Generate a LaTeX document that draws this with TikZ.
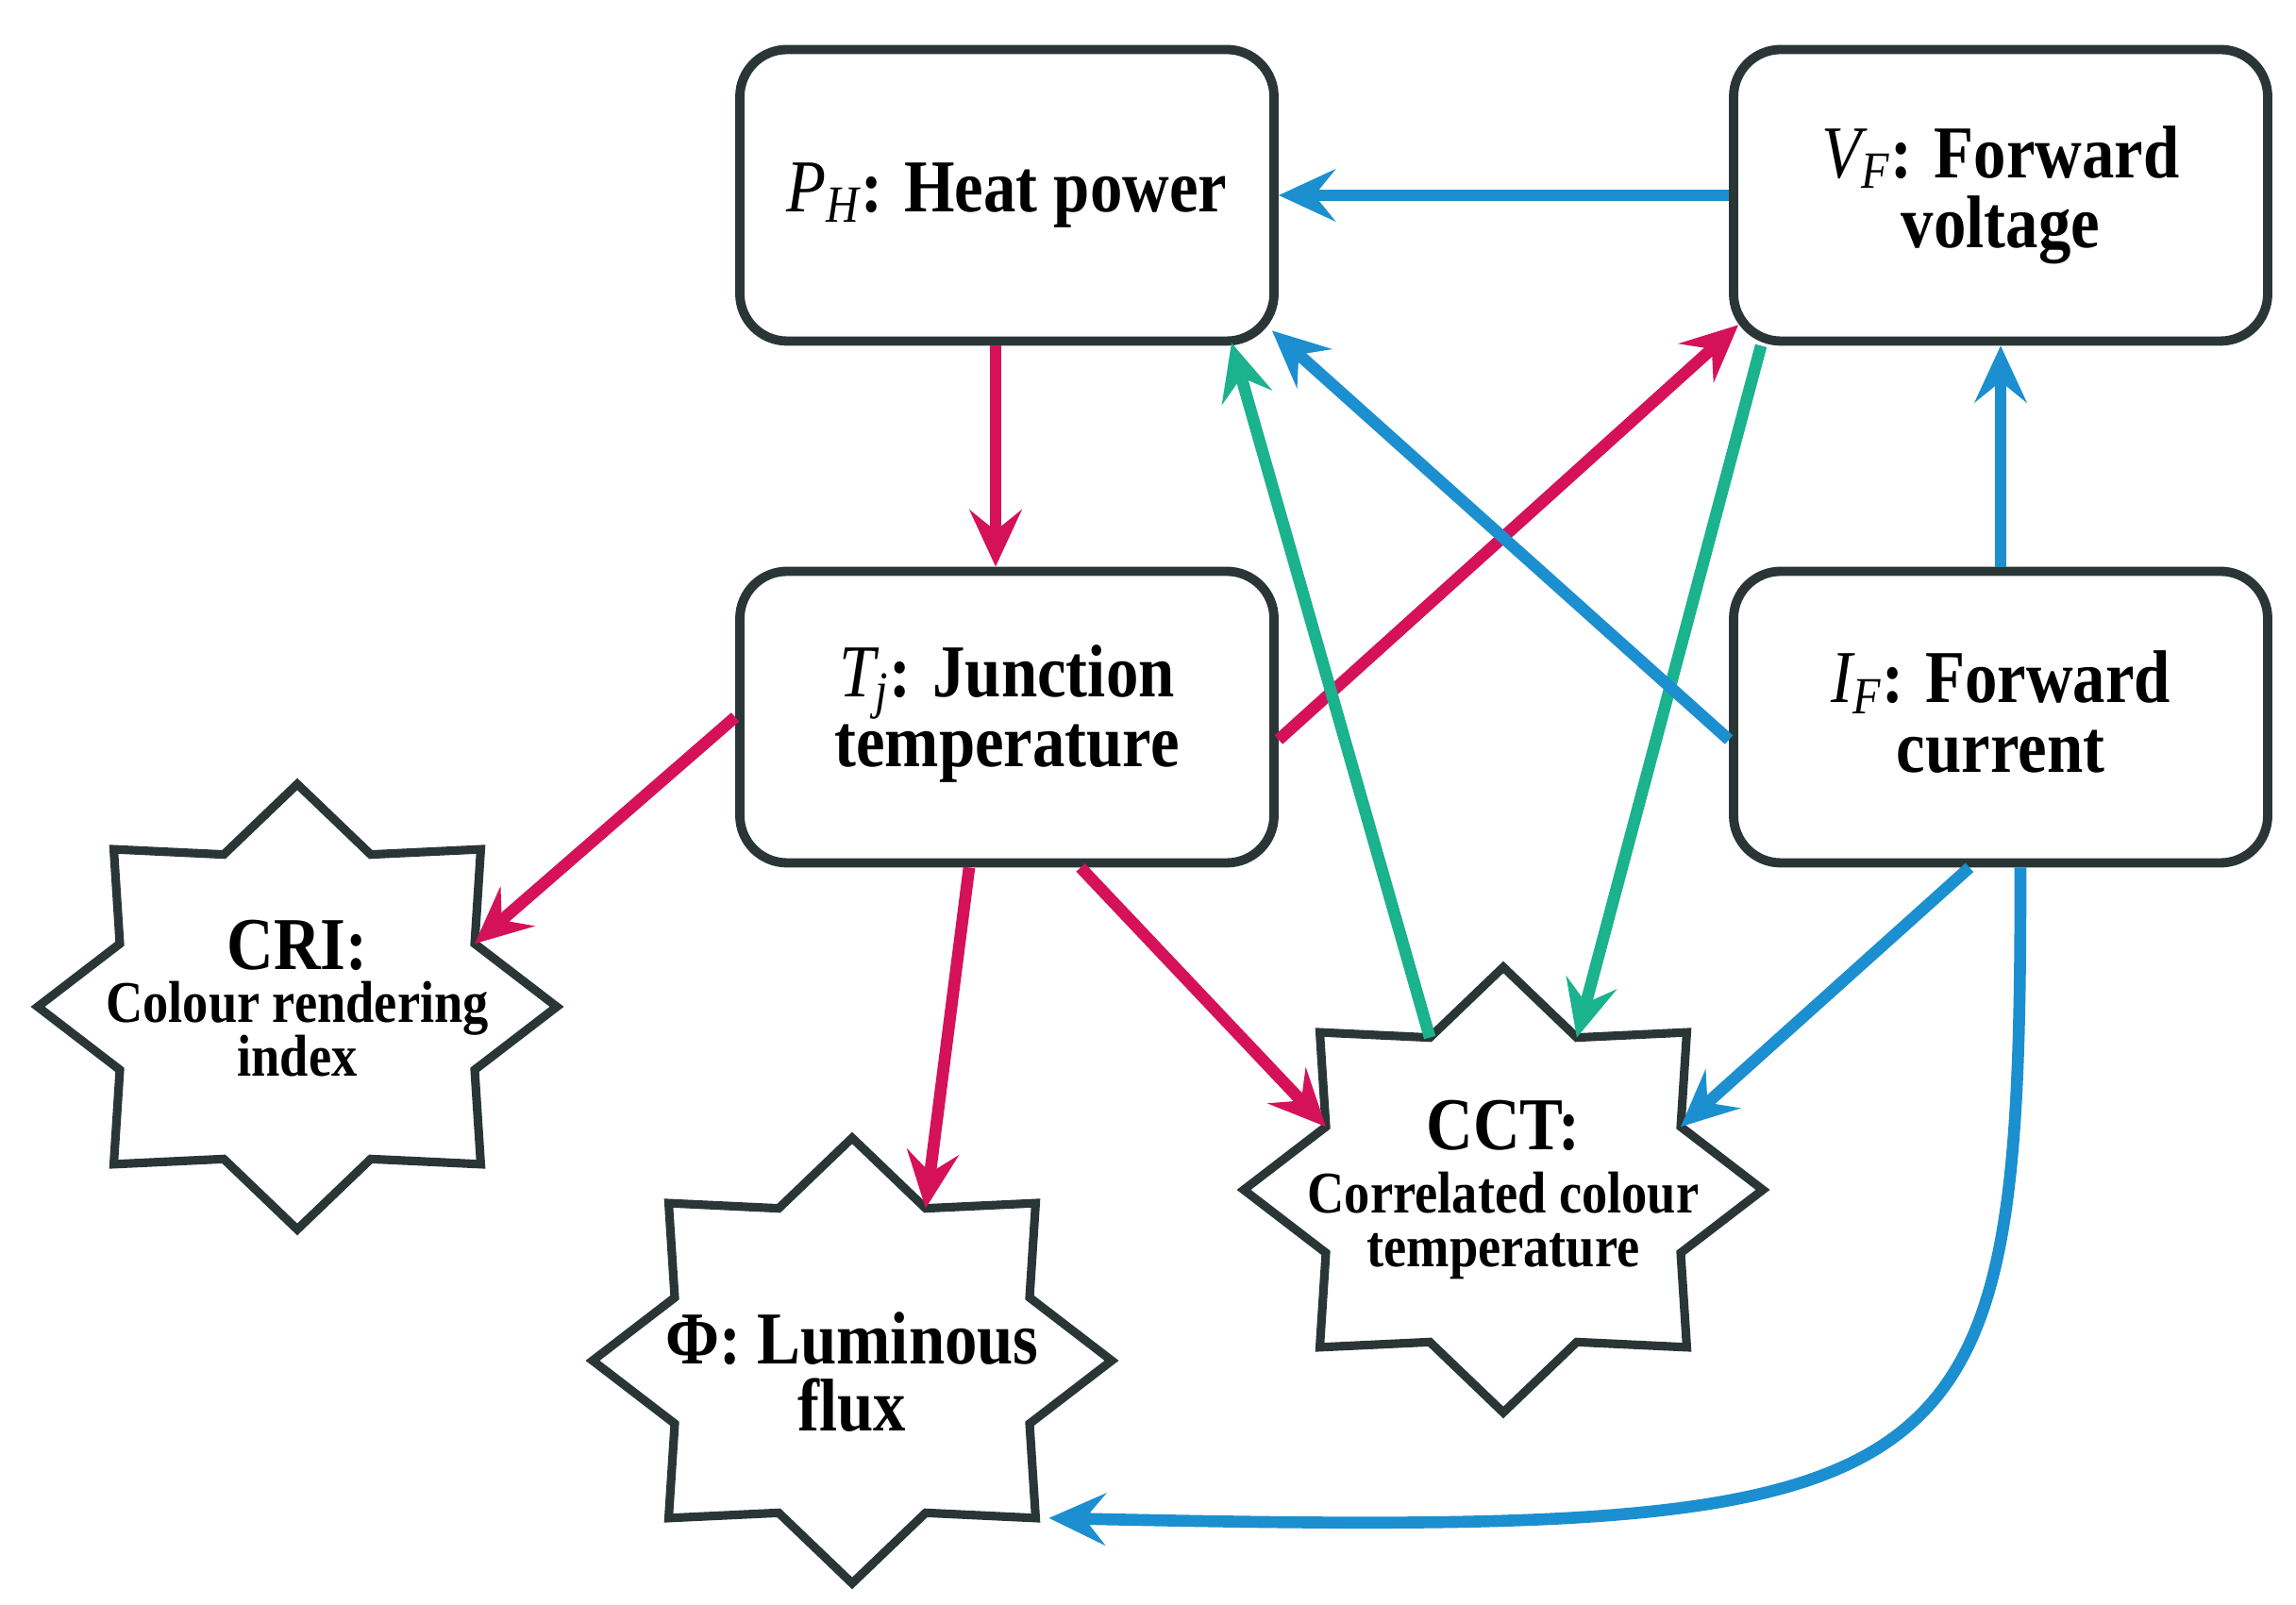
\documentclass[tikz,border=0pt]{standalone}
\usepackage{fontspec}
\setmainfont{Liberation Serif}[FakeStretch=0.87]
\usetikzlibrary{arrows.meta,calc,positioning}
\setlength{\lineskiplimit}{-20pt}

\definecolor{arrred}{RGB}{213,17,90}
\definecolor{arrblue}{RGB}{27,143,208}
\definecolor{arrgreen}{RGB}{27,178,142}
\definecolor{frame}{RGB}{42,54,54}

% symbol with subscript, italic as in the figure
\newcommand{\symb}[2]{{\mdseries\itshape #1}\textsubscript{\mdseries\itshape #2}}

% eight-pointed star at #2, corners named #1-0 ... #1-15
\newcommand{\starframe}[2]{%
  \coordinate (#1) at (#2);
  \foreach \k in {0,...,15} {
    \pgfmathsetmacro{\rr}{mod(\k,2)==0 ? 1 : 0.74}
    \coordinate (#1-\k) at ($(#1)+({90+22.5*\k}:{2.75*\rr} and {2.36*\rr})$);
  }
  \draw[starline] (#1-0) \foreach \k in {1,...,15} {-- (#1-\k)} -- cycle;
}

\begin{document}
\begin{tikzpicture}[
    box/.style={draw=frame, line width=2.8pt, rounded corners=0.5cm, minimum width=5.66cm, minimum height=3.09cm, align=center, font=\fontsize{22.5}{21}\selectfont\bfseries},
    startext/.style={align=center, inner sep=0pt},
    starline/.style={draw=frame, line width=2.6pt, line join=miter},
    link/.style={line width=3.6pt, -{Stealth[length=0.6cm, width=0.55cm, inset=0.22cm]}},
    redlink/.style={link, draw=arrred},
    bluelink/.style={link, draw=arrblue},
    greenlink/.style={link, draw=arrgreen}]

    \useasboundingbox (0,0) rectangle (24.33,17.01);

    % boxes
    \node[box] (heat) at (10.67,14.94) {\symb{P}{H}: Heat power};
    \node[box] (volt) at (21.20,14.94) {\symb{V}{F}: Forward\\voltage};
    \node[box] (junc) at (10.67,9.41) {\symb{T}{j}: Junction\\temperature\vphantom{\symb{T}{j}}};
    \node[box] (curr) at (21.20,9.41) {\symb{I}{F}: Forward\\current\vphantom{\symb{I}{F}}};

    % stars
    \starframe{cristar}{3.15,6.34}
    \starframe{fluxstar}{9.03,2.59}
    \starframe{cctstar}{15.93,4.40}

    \node[startext, font=\fontsize{17.8}{16}\selectfont\bfseries] (cri) at (3.15,6.43)
        {{\fontsize{22.5}{20}\selectfont CRI:}\\Colour rendering\\index};
    \node[startext, font=\fontsize{22.5}{20}\selectfont\bfseries] (flux) at (9.03,2.47)
        {Φ: Luminous\\flux};
    \node[startext, font=\fontsize{17.8}{16}\selectfont\bfseries] (cct) at (15.93,4.40)
        {{\fontsize{22.5}{20}\selectfont CCT:}\\[3pt]Correlated colour\\temperature};

    % links
    \draw[bluelink] (volt.west) -- (heat.east);
    \draw[redlink] ($(heat.south)+(-0.12,0)$) -- ($(junc.north)+(-0.12,0)$);
    \draw[redlink] ($(junc.east)+(0,-0.24)$) -- ($(volt.south west)+(0.1,0.22)$);
    \draw[greenlink] ($(volt.south west)+(0.34,0)$) -- (cctstar-15);
    \draw[greenlink] (cctstar-1) -- ($(heat.south east)+(-0.5,0.03)$);
    \draw[bluelink] ($(curr.west)+(0,-0.24)$) -- ($(heat.south east)+(-0.07,0.16)$);
    \draw[bluelink] (curr.north) -- (volt.south);
    \draw[redlink] (junc.west) -- (cristar-13);
    \draw[redlink] ($(junc.south)+(-0.40,0)$) -- (fluxstar-15);
    \draw[redlink] ($(junc.south)+(0.78,0)$) -- (cctstar-3);
    \draw[bluelink] ($(curr.south)+(-0.33,0)$) -- (cctstar-13);
    \draw[bluelink] ($(curr.south)+(0.21,0)$) .. controls (21.41,1.01) and (21.00,0.71) .. ($(fluxstar-10)+(0.14,0)$);

\end{tikzpicture}
\end{document}
